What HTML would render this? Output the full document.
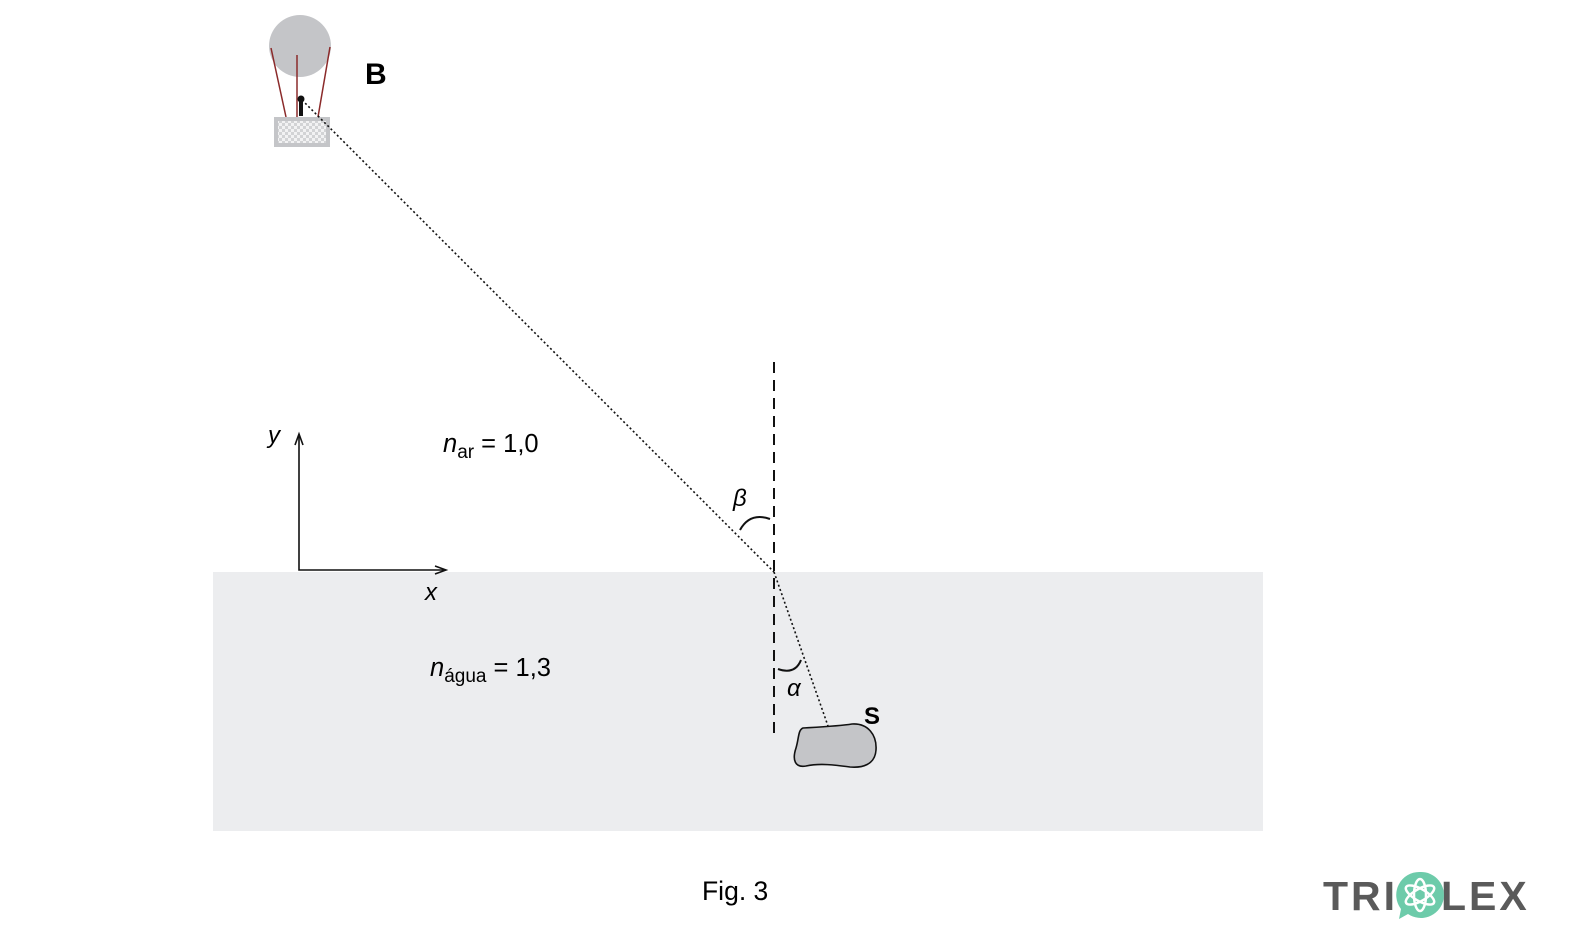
<!DOCTYPE html>
<html><head><meta charset="utf-8"><style>
html,body{margin:0;padding:0;background:#fff}
svg{display:block}
text{font-family:"Liberation Sans",sans-serif}
</style></head><body>
<svg width="1570" height="936" viewBox="0 0 1570 936" xmlns="http://www.w3.org/2000/svg">
<defs>
<pattern id="chk" width="6" height="6" patternUnits="userSpaceOnUse">
<rect width="6" height="6" fill="#d2d3d5"/><rect width="3" height="3" fill="#f2f2f3"/><rect x="3" y="3" width="3" height="3" fill="#f2f2f3"/>
</pattern>
</defs>
<rect x="213" y="572" width="1050" height="259" fill="#ecedef"/>
<circle cx="300" cy="46" r="31" fill="#c4c5c8"/>
<g stroke="#8b2a2a" stroke-width="1.5">
<line x1="271" y1="48" x2="286" y2="117"/>
<line x1="297" y1="55" x2="297" y2="117"/>
<line x1="330" y1="47" x2="318" y2="117"/>
</g>
<rect x="274" y="117" width="56" height="30" fill="#c4c5c8"/>
<rect x="278" y="121" width="48" height="22" fill="url(#chk)"/>
<circle cx="301" cy="99" r="3.5" fill="#111"/>
<rect x="299" y="101" width="4" height="15" fill="#111"/>
<line x1="302" y1="100" x2="774" y2="572" stroke="#111" stroke-width="1.6" stroke-dasharray="2,2.5"/>
<line x1="774" y1="572" x2="828" y2="726" stroke="#111" stroke-width="1.6" stroke-dasharray="2,2.5"/>
<line x1="774" y1="362" x2="774" y2="738" stroke="#111" stroke-width="2" stroke-dasharray="11,7"/>
<path d="M740 530 Q750 512 770 519" fill="none" stroke="#111" stroke-width="2"/>
<path d="M778 669 Q795 675 801 660" fill="none" stroke="#111" stroke-width="2"/>
<text x="733" y="506" font-family="Liberation Serif" font-style="italic" font-size="24">β</text>
<text x="787" y="696" font-family="Liberation Serif" font-style="italic" font-size="24">α</text>
<path d="M803 728 C820 727 840 726 852 724 C868 723 877 735 876 750 C875 765 862 768 850 767 C835 765 820 763 806 766 C795 768 792 760 796 748 C799 738 798 730 803 728 Z" fill="#c4c5c8" stroke="#111" stroke-width="1.6"/>
<text x="864" y="724" font-weight="bold" font-size="24">S</text>
<text x="365" y="84" font-weight="bold" font-size="30">B</text>
<g stroke="#111" stroke-width="1.6" fill="none">
<path d="M299 436 L299 570 L444 570"/>
<path d="M295 445 L299 434 L303 445"/>
<path d="M435 566 L446 570 L435 574"/>
</g>
<text x="268" y="443" font-family="Liberation Serif" font-style="italic" font-size="24">y</text>
<text x="425" y="600" font-family="Liberation Serif" font-style="italic" font-size="24">x</text>
<text x="443" y="452" font-size="25.5"><tspan font-style="italic">n</tspan><tspan font-size="19" dy="6">ar</tspan><tspan dy="-6"> = 1,0</tspan></text>
<text x="430" y="676" font-size="25.5"><tspan font-style="italic">n</tspan><tspan font-size="19" dy="6">água</tspan><tspan dy="-6"> = 1,3</tspan></text>
<text x="702" y="900" font-size="26.5">Fig. 3</text>
<text x="1323" y="910" font-weight="bold" font-size="41" fill="#5a5a5a" letter-spacing="3">TRI</text>
<text x="1441" y="910" font-weight="bold" font-size="41" fill="#5a5a5a" letter-spacing="3">LEX</text>
<path d="M1420 872 a23 23 0 1 1 -12 42 l-9 5 l2 -10 a23 23 0 0 1 19 -37 z" fill="#6dcbaa"/>
<g fill="none" stroke="#fff" stroke-width="2.5">
<ellipse cx="1420" cy="895" rx="16" ry="6" transform="rotate(30 1420 895)"/>
<ellipse cx="1420" cy="895" rx="16" ry="6" transform="rotate(-30 1420 895)"/>
<ellipse cx="1420" cy="895" rx="6" ry="16"/>
</g>
</svg>
</body></html>
